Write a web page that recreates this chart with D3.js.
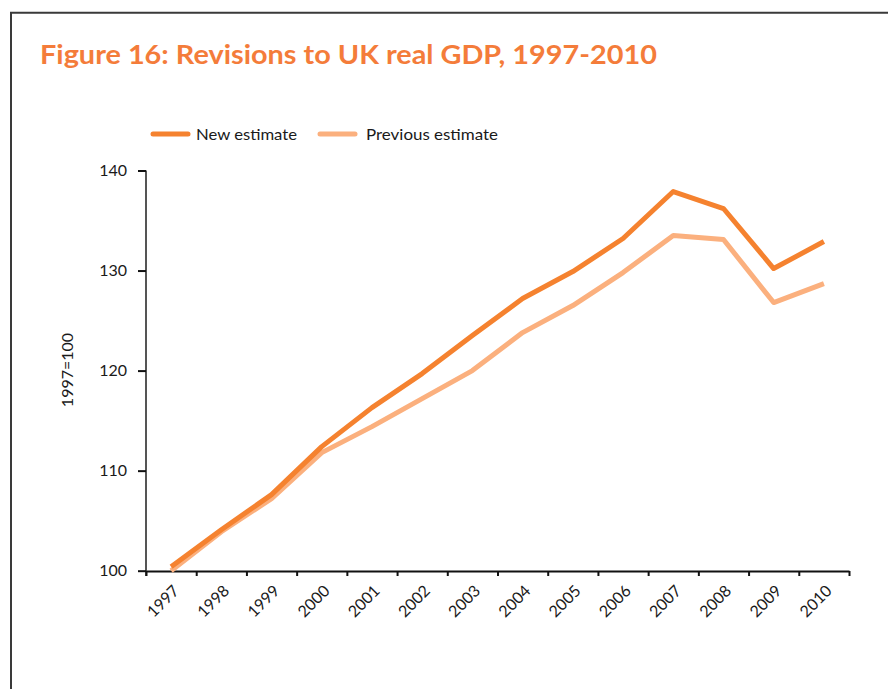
<!DOCTYPE html>
<html>
<head>
<meta charset="utf-8">
<script src="https://cdn.jsdelivr.net/npm/d3@7"></script>
<style>
  body { margin: 0; background: #fff; }
  text { font-family: Lato, "Open Sans", sans-serif; fill: #1a1a1a; }
</style>
</head>
<body>
<div class="gdp-chart"></div>
<script>
const years = [1997, 1998, 1999, 2000, 2001, 2002, 2003, 2004, 2005, 2006, 2007, 2008, 2009, 2010];
const newEstimate = [100.4, 104.1, 107.6, 112.4, 116.3, 119.7, 123.5, 127.2, 129.9, 133.2, 137.9, 136.2, 130.2, 132.9];
const prevEstimate = [100.0, 103.9, 107.2, 111.8, 114.4, 117.2, 120.0, 123.8, 126.5, 129.8, 133.5, 133.1, 126.8, 128.7];
const yTicks = [100, 110, 120, 130, 140];
const seriesNames = ["New estimate", "Previous estimate"];

const w = 888;
const h = 689;
const newColor = "#f5822f";
const prevColor = "#fbb07e";

const svg = d3.select('.gdp-chart')
    .append('svg')
    .attr('width', w)
    .attr('height', h);

// frame round the figure
svg.append("path")
    .attr("d", "M11,689V12.7H888")
    .attr("fill", "none")
    .attr("stroke", "#3a3a3a")
    .attr("stroke-width", 2);

// title
svg.append("text")
    .attr("x", 40)
    .attr("y", 63.5)
    .attr("font-size", 26)
    .attr("font-weight", "bold")
    .attr("textLength", 617)
    .attr("lengthAdjust", "spacingAndGlyphs")
    .style("fill", "#f47c3a")
    .text("Figure 16: Revisions to UK real GDP, 1997-2010");

const x = d3.scaleBand().domain(years).range([146, 849]).padding(0);
const xEdge = d3.scaleLinear().domain([0, years.length]).range([146, 849]);
const y = d3.scaleLinear().domain([100, 140]).range([570.7, 170.5]);

// y axis
const yAxis = svg.append("g")
    .attr("transform", "translate(146,0)")
    .call(d3.axisLeft(y).tickValues(yTicks).tickSize(8).tickSizeOuter(0).tickPadding(11));
yAxis.select(".domain").attr("stroke", "#555").attr("stroke-width", 2)
    .attr("d", "M0,170.5V576");
yAxis.selectAll(".tick line").attr("stroke", "#111").attr("stroke-width", 2);
yAxis.selectAll(".tick text").attr("font-size", 16).attr("font-family", "Lato, sans-serif")
    .style("fill", "#1a1a1a");

// x axis: ticks between the years
const xAxis = svg.append("g")
    .attr("transform", "translate(0,571)")
    .call(d3.axisBottom(xEdge).tickValues(d3.range(years.length + 1)).tickSize(5).tickSizeOuter(0).tickFormat(""));
xAxis.select(".domain").attr("stroke", "#111").attr("stroke-width", 2);
xAxis.selectAll(".tick line").attr("stroke", "#111").attr("stroke-width", 2);

// x labels at the year centres
const xLabels = svg.append("g")
    .attr("transform", "translate(0,571)")
    .call(d3.axisBottom(x).tickSize(0).tickFormat(d => d));
xLabels.select(".domain").remove();
xLabels.selectAll(".tick text")
    .attr("font-size", 16)
    .attr("font-family", "Lato, sans-serif")
    .style("fill", "#1a1a1a")
    .attr("text-anchor", "end")
    .attr("x", 0)
    .attr("y", 0)
    .attr("dy", "0.35em")
    .attr("transform", "translate(5,17) rotate(-45)");

// y axis title
svg.append("text")
    .attr("transform", "translate(73,370) rotate(-90)")
    .attr("text-anchor", "middle")
    .attr("font-size", 16)
    .text("1997=100");

// lines
const line = d3.line()
    .x((d, i) => x(years[i]) + x.bandwidth() / 2)
    .y(d => y(d));

svg.append("path")
    .datum(prevEstimate)
    .attr("d", line)
    .attr("fill", "none")
    .attr("stroke", prevColor)
    .attr("stroke-width", 5)
    .attr("stroke-linejoin", "round");

svg.append("path")
    .datum(newEstimate)
    .attr("d", line)
    .attr("fill", "none")
    .attr("stroke", newColor)
    .attr("stroke-width", 5)
    .attr("stroke-linejoin", "round");

// legend
const legendItems = [
    {name: seriesNames[0], color: newColor, x: 153, tx: 196, len: 101},
    {name: seriesNames[1], color: prevColor, x: 320, tx: 366, len: 132}
];
const legend = svg.selectAll(".legend")
    .data(legendItems)
    .enter()
    .append("g");
legend.append("line")
    .attr("x1", d => d.x)
    .attr("x2", d => d.x + 35)
    .attr("y1", 134)
    .attr("y2", 134)
    .attr("stroke", d => d.color)
    .attr("stroke-width", 5)
    .attr("stroke-linecap", "round");
legend.append("text")
    .attr("x", d => d.tx)
    .attr("y", 139.5)
    .attr("font-size", 16)
    .attr("textLength", d => d.len)
    .attr("lengthAdjust", "spacingAndGlyphs")
    .text(d => d.name);
</script>
</body>
</html>
